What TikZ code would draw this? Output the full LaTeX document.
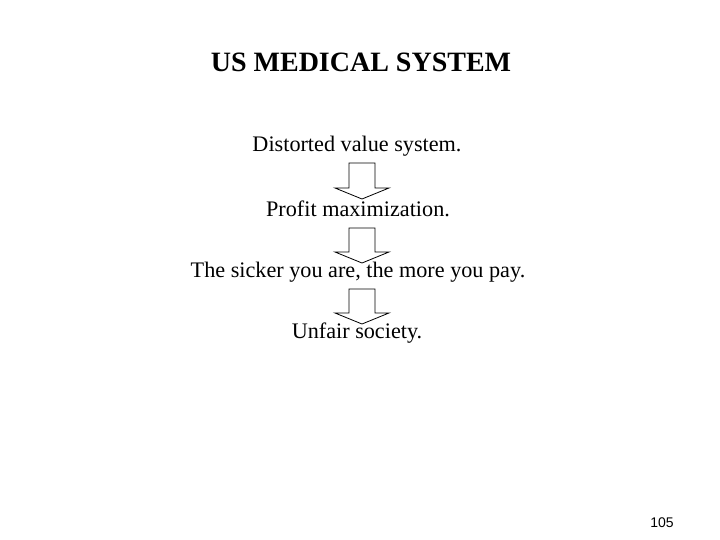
\documentclass[tikz,border=0pt]{standalone}
\usepackage{fontspec}
\setmainfont{Liberation Serif}
\setsansfont{Liberation Sans}
\usetikzlibrary{positioning,calc}
\tikzset{
  heading/.style={font=\bfseries\fontsize{28}{32}\selectfont},
  stage/.style={font=\fontsize{22.2}{26}\selectfont},
  pagenum/.style={font=\sffamily\fontsize{14}{16}\selectfont},
  blockarrow/.style={line width=0.8pt,draw=black,fill=white,
    to path={let \p1=(\tikztostart), \p2=(\tikztotarget) in
      (\x1-13pt,\y1) -- (\x1+13pt,\y1) -- (\x1+13pt,\y2+11pt)
      -- (\x1+27pt,\y2+11pt) -- (\x2,\y2) -- (\x1-27pt,\y2+11pt)
      -- (\x1-13pt,\y2+11pt) -- cycle}}
}
\begin{document}
\begin{tikzpicture}[x=1pt,y=-1pt]
  \useasboundingbox (0,0) rectangle (720,540);
  \node[heading] (title) at (361,62) {US MEDICAL SYSTEM};
  \node[stage] (s1) at (357,146) {Distorted value system.};
  \node[stage] (s2) at (358,209) {Profit maximization.};
  \node[stage] (s3) at (358,272) {The sicker you are, the more you pay.};
  \node[stage] (s4) at (357,333) {Unfair society.};
  \node[pagenum] (num) at (662,523) {105};
  % arrows between the stages
  \coordinate (a1top) at (362,163);
  \coordinate (a1tip) at (362,199);
  \coordinate (a2top) at (362,228);
  \coordinate (a2tip) at (362,263);
  \coordinate (a3top) at (362,289);
  \coordinate (a3tip) at (362,324);
  \draw[blockarrow] (a1top) to (a1tip);
  \draw[blockarrow] (a2top) to (a2tip);
  \draw[blockarrow] (a3top) to (a3tip);
\end{tikzpicture}
\end{document}
